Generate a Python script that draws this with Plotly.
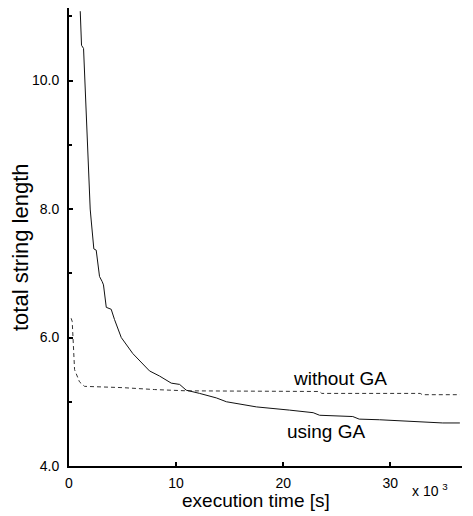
import plotly.graph_objects as go

# execution time in units of 1000 s
ga_x = [1.05, 1.17, 1.36, 1.48, 1.79, 1.98, 2.07, 2.22, 2.32, 2.54, 2.85, 3.10, 3.22, 3.48, 3.94, 4.25,
        4.88, 5.96, 6.75, 7.52, 8.46, 9.55, 10.33, 10.95, 12.2, 13.76, 14.7, 15.95, 17.5, 20.6,
        22.8, 23.4, 26.5, 27.1, 29.0, 34.9, 36.5]
ga_y = [11.08, 10.55, 10.5, 10.0, 8.6, 8.0, 7.83, 7.58, 7.38, 7.36, 6.95, 6.87, 6.82, 6.47, 6.44, 6.28,
        6.0, 5.75, 5.61, 5.48, 5.40, 5.29, 5.27, 5.18, 5.13, 5.06, 5.0, 4.96, 4.92, 4.87,
        4.83, 4.79, 4.77, 4.73, 4.72, 4.67, 4.67]

nog_x = [0.2, 0.3, 0.52, 0.98, 1.45, 5.0, 8.0, 11.0, 23.4, 23.6, 32.8, 33.0, 36.5]
nog_y = [6.3, 6.25, 5.5, 5.31, 5.24, 5.22, 5.19, 5.17, 5.16, 5.13, 5.13, 5.11, 5.11]

x_ticks = [0, 10, 20, 30]
x_tick_labels = ["0", "10", "20", "30"]
y_ticks = [4, 6, 8, 10]
y_tick_labels = ["4.0", "6.0", "8.0", "10.0"]
y_minor_ticks = [5, 7, 9, 11]

FONT = "Liberation Sans, Arial, Helvetica, sans-serif"
W, H = 473, 516
ML, MR, MT, MB = 69, 11, 8, 50

fig = go.Figure()
fig.add_trace(go.Scatter(x=nog_x, y=nog_y, mode="lines",
                         line=dict(color="#333333", width=1, dash="4px,3px"),
                         name="without GA", showlegend=False))
fig.add_trace(go.Scatter(x=ga_x, y=ga_y, mode="lines",
                         line=dict(color="#111111", width=1),
                         name="using GA", showlegend=False))


def px_to_paper(px, py):
    return (px - ML) / (W - ML - MR), (H - MB - py) / (H - MB - MT)


def pix_annot(text, px, py, size, angle=0):
    x, y = px_to_paper(px, py)
    return dict(text=text, x=x, y=y, xref="paper", yref="paper", showarrow=False,
                xanchor="center", yanchor="middle", textangle=angle,
                font=dict(size=size, family=FONT, color="black"))


fig.update_layout(
    width=W, height=H,
    margin=dict(l=ML, r=MR, t=MT, b=MB),
    paper_bgcolor="white", plot_bgcolor="white",
    font=dict(family=FONT, size=14, color="black"),
    xaxis=dict(range=[0, 36.7], tickvals=x_ticks, ticktext=x_tick_labels, automargin=False,
               showgrid=False, zeroline=False, showline=True, linecolor="black", linewidth=2,
               ticks="inside", ticklen=4, tickwidth=2, tickcolor="black", ticklabelstandoff=3,
               tickfont=dict(size=14, family=FONT)),
    yaxis=dict(range=[4, 11.13], tickvals=y_ticks, ticktext=y_tick_labels, automargin=False,
               showgrid=False, zeroline=False, showline=True, linecolor="black", linewidth=2,
               ticks="inside", ticklen=4, tickwidth=2, tickcolor="black", ticklabelstandoff=5,
               tickfont=dict(size=14, family=FONT),
               minor=dict(tickvals=y_minor_ticks, ticks="inside", ticklen=3, tickwidth=2,
                          tickcolor="black")),
    annotations=[
        dict(text="without GA", x=25.3, y=5.37, xref="x", yref="y", showarrow=False,
             font=dict(size=19, family=FONT)),
        dict(text="using GA", x=24.0, y=4.53, xref="x", yref="y", showarrow=False,
             font=dict(size=19, family=FONT)),
        pix_annot("execution time [s]", 256, 500, 19),
        pix_annot("total string length", 21, 247, 22, angle=-90),
        pix_annot("x 10 <sup>3</sup>", 430, 490, 14),
    ],
)

fig.write_html("out.html", config={"displayModeBar": False},
               post_script="document.body.style.margin='0';")
